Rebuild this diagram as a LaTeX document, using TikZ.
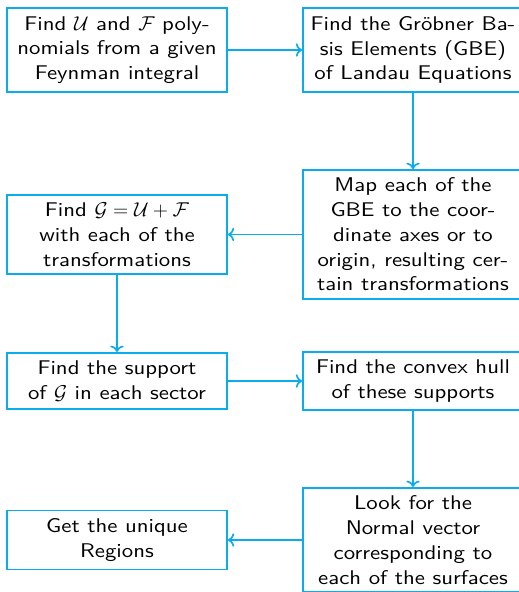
\documentclass[tikz,border=0pt]{standalone}
\usepackage{fontspec}
\setsansfont{lmsans10-regular.otf}[FakeStretch=1.15]
\usetikzlibrary{arrows.meta}
\definecolor{flowblue}{RGB}{10,172,235}

\begin{document}
\begin{tikzpicture}[x=0.6pt,y=-0.6pt,
  stepbox/.style={rectangle,draw=flowblue,line width=1pt,text width=128pt,align=flush center,
                  inner xsep=2pt,inner ysep=4.8pt,
                  font=\fontsize{11.9}{14.85}\selectfont\sffamily},
  arr/.style={->,draw=flowblue,line width=1pt},
]
\path[use as bounding box,clip] (0,0) rectangle (519,592);

% Row 1
\node[stepbox] (polys) at (117,50)
  {Find $\mathcal{U}$ and $\mathcal{F}$ poly-\\nomials from a given\\Feynman integral};
\node[stepbox] (gbe) at (413,50)
  {Find the Gr\"obner Ba-\\sis Elements (GBE)\\of Landau Equations};

% Row 2
\node[stepbox] (mapaxes) at (413,234.5)
  {Map each of the\\GBE to the coor-\\dinate axes or to\\origin, resulting cer-\\tain transformations};
\node[stepbox] (findG) at (117,234.5)
  {Find $\mathcal{G} = \mathcal{U} + \mathcal{F}$\\with each of the\\transformations};

% Row 3
\node[stepbox] (support) at (117,381)
  {Find the support\\of $\mathcal{G}$ in each sector};
\node[stepbox] (hull) at (413,381)
  {Find the convex hull\\of these supports};

% Row 4
\node[stepbox] (normal) at (413,540)
  {Look for the\\Normal vector\\corresponding to\\each of the surfaces};
\node[stepbox] (regions) at (117,540)
  {Get the unique\\Regions};

% Arrows
\draw[arr] (polys) -- (gbe);
\draw[arr] (gbe) -- (mapaxes);
\draw[arr] (mapaxes) -- (findG);
\draw[arr] (findG) -- (support);
\draw[arr] (support) -- (hull);
\draw[arr] (hull) -- (normal);
\draw[arr] (normal) -- (regions);

\end{tikzpicture}
\end{document}
